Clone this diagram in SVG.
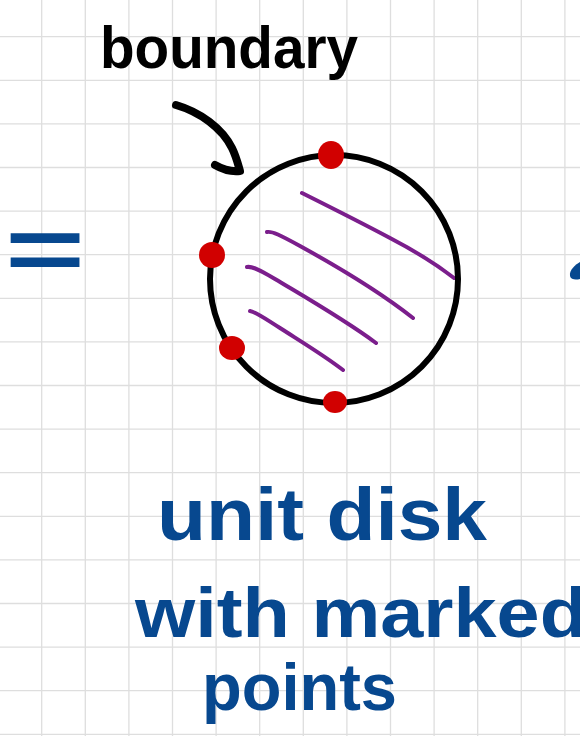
<svg xmlns="http://www.w3.org/2000/svg" width="580" height="736" viewBox="0 0 580 736">
<style>
.grid line{stroke:#dedede;stroke-width:1.3}
.ink{fill:none;stroke:#000;stroke-linecap:round;stroke-linejoin:round}
.hatch{fill:none;stroke:#7b1e8c;stroke-width:4;stroke-linecap:round}
.dot{fill:#d10000}
.blue{fill:#07488f;font-family:"Liberation Sans",Arial,sans-serif;font-weight:bold}
.black{fill:#000;font-family:"Liberation Sans",Arial,sans-serif;font-weight:bold}
</style>
<rect width="580" height="736" fill="#ffffff"/>
<g id="grid" class="grid">
<line x1="41.7" y1="0" x2="41.7" y2="736"/><line x1="85.3" y1="0" x2="85.3" y2="736"/><line x1="128.9" y1="0" x2="128.9" y2="736"/><line x1="172.5" y1="0" x2="172.5" y2="736"/><line x1="216.1" y1="0" x2="216.1" y2="736"/><line x1="259.7" y1="0" x2="259.7" y2="736"/><line x1="303.3" y1="0" x2="303.3" y2="736"/><line x1="346.9" y1="0" x2="346.9" y2="736"/><line x1="390.5" y1="0" x2="390.5" y2="736"/><line x1="434.1" y1="0" x2="434.1" y2="736"/><line x1="477.7" y1="0" x2="477.7" y2="736"/><line x1="521.3" y1="0" x2="521.3" y2="736"/><line x1="564.9" y1="0" x2="564.9" y2="736"/>
<line x1="0" y1="36.7" x2="580" y2="36.7"/><line x1="0" y1="80.3" x2="580" y2="80.3"/><line x1="0" y1="123.9" x2="580" y2="123.9"/><line x1="0" y1="167.5" x2="580" y2="167.5"/><line x1="0" y1="211.1" x2="580" y2="211.1"/><line x1="0" y1="254.7" x2="580" y2="254.7"/><line x1="0" y1="298.3" x2="580" y2="298.3"/><line x1="0" y1="341.9" x2="580" y2="341.9"/><line x1="0" y1="385.5" x2="580" y2="385.5"/><line x1="0" y1="429.1" x2="580" y2="429.1"/><line x1="0" y1="472.7" x2="580" y2="472.7"/><line x1="0" y1="516.3" x2="580" y2="516.3"/><line x1="0" y1="559.9" x2="580" y2="559.9"/><line x1="0" y1="603.5" x2="580" y2="603.5"/><line x1="0" y1="647.1" x2="580" y2="647.1"/><line x1="0" y1="690.7" x2="580" y2="690.7"/><line x1="0" y1="734.3" x2="580" y2="734.3"/>
</g>
<g id="equals">
<text class="blue" x="0" y="280.5" font-size="89" transform="translate(5 0) scale(1.54 1)">=</text>
</g>
<g id="label-boundary">
<text class="black" x="100" y="68" font-size="60" textLength="258" lengthAdjust="spacingAndGlyphs">boundary</text>
</g>
<g id="connectors">
<path class="ink" stroke-width="8" d="M176,105 C200,112 222,128 232,148 C236,156 238,164 240,171 C232,172 222,169 215,165"/>
</g>
<g id="unit-disk">
<path class="hatch" d="M302,193 C330,207 360,222 390,238 C415,251 436,264 454,278"/>
<path class="hatch" d="M267,232 C272,231 280,235 300,246 C340,268 380,292 413,318"/>
<path class="hatch" d="M247,267 C252,266 260,270 275,279 C310,300 345,320 376,343"/>
<path class="hatch" d="M250,311 C256,312 264,318 280,328 C305,344 325,356 343,370"/>
<ellipse class="ink" stroke-width="6" cx="334" cy="279" rx="124" ry="124"/>
</g>
<g id="marked-points">
<ellipse class="dot" cx="331" cy="155" rx="13" ry="14"/>
<ellipse class="dot" cx="212" cy="255" rx="13" ry="13"/>
<ellipse class="dot" cx="232" cy="348" rx="13" ry="12"/>
<ellipse class="dot" cx="335" cy="402" rx="12" ry="11"/>
</g>
<g id="caption">
<text class="blue" x="157" y="540" font-size="74" textLength="330" lengthAdjust="spacingAndGlyphs">unit disk</text>
<text class="blue" x="135" y="637" font-size="70" textLength="452" lengthAdjust="spacingAndGlyphs">with marked</text>
<text class="blue" x="202" y="710" font-size="66" textLength="195" lengthAdjust="spacingAndGlyphs">points</text>
</g>
<g id="edge-fragment">
<path fill="#07488f" d="M580,262 C575,265 569,270 570,276 C571,280 576,280 580,279 Z"/>
</g>
</svg>
